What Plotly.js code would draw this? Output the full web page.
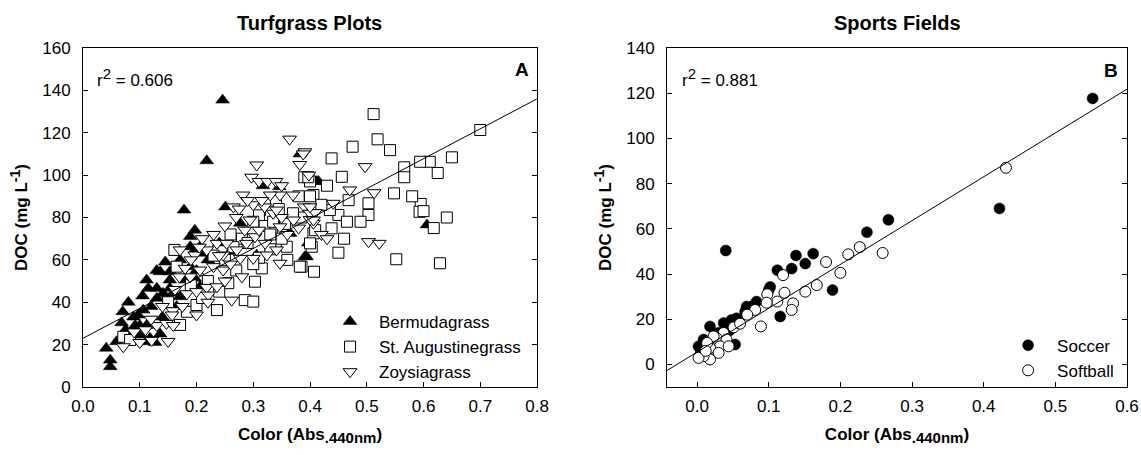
<!DOCTYPE html>
<html>
<head>
<meta charset="utf-8">
<script src="https://cdn.plot.ly/plotly-3.0.1.min.js"></script>
<style>html,body{margin:0;padding:0;background:#fff;}#chart{width:1141px;height:455px;}</style>
</head>
<body>
<div id="chart"></div>
<script>
// ---- Panel A: Turfgrass Plots ----
var bermudaX = [0.041,0.048,0.048,0.059,0.070,0.068,0.089,0.097,0.106,0.092,0.100,0.112,0.118,0.127,0.136,0.089,0.100,0.112,0.112,0.115,0.130,0.136,0.153,0.153,0.153,0.171,0.189,0.197,0.206,0.215,0.189,0.180,0.197,0.206,0.159,0.171,0.141,0.178,0.251,0.197,0.218,0.246,0.317,0.346,0.382,0.412,0.415,0.277,0.365,0.394,0.306,0.189,0.606,0.391,0.397,0.080,0.120,0.140,0.165,0.130,0.220,0.240,0.260,0.075,0.105,0.145,0.200,0.130];
var bermudaY = [18.3,12.7,9.6,21.4,35.5,30.3,33.0,34.0,36.3,29.0,29.0,29.0,23.0,21.0,25.0,25.3,24.5,21.4,50.5,46.6,46.6,54.4,50.5,54.4,46.6,60.0,66.2,64.6,66.2,63.1,56.8,50.5,51.3,47.3,44.2,42.6,44.2,83.5,85.0,74.0,106.8,135.4,95.0,94.5,110.0,97.0,97.0,77.3,72.5,61.5,62.3,71.0,76.5,61.5,68.0,40.0,38.0,33.0,38.0,55.0,60.0,68.0,64.0,27.0,43.0,59.0,55.0,41.9];

var staugX = [0.512,0.519,0.541,0.475,0.438,0.456,0.700,0.650,0.611,0.594,0.566,0.566,0.625,0.548,0.503,0.503,0.489,0.595,0.593,0.641,0.618,0.468,0.450,0.465,0.435,0.406,0.390,0.400,0.400,0.312,0.385,0.310,0.397,0.552,0.629,0.450,0.438,0.406,0.403,0.407,0.385,0.161,0.071,0.083,0.183,0.171,0.236,0.285,0.300,0.256,0.303,0.200,0.315,0.310,0.359,0.382,0.400,0.409,0.320,0.335,0.352,0.356,0.165,0.280,0.250,0.270,0.330,0.350,0.220,0.240,0.290,0.370,0.340,0.380,0.430,0.420,0.460,0.360,0.260,0.300,0.210,0.190,0.150,0.600,0.580,0.230,0.265,0.330,0.300,0.345];
var staugY = [128.8,116.9,111.8,113.4,107.9,99.2,121.3,108.4,106.3,106.3,103.7,99.0,101.0,91.4,86.7,81.2,78.0,86.4,82.7,80.0,75.0,88.2,81.2,78.0,83.5,90.6,99.0,97.0,90.0,83.5,80.0,81.0,99.0,60.3,58.4,63.4,74.9,72.5,66.2,54.4,56.8,64.7,23.7,22.2,35.5,29.3,36.3,41.0,40.3,49.0,49.7,38.7,56.0,61.0,66.2,56.8,67.8,74.0,76.0,78.0,74.0,77.0,56.8,70.0,60.0,55.0,65.0,70.0,50.0,45.0,68.0,82.0,88.0,90.0,95.0,86.0,70.0,60.0,72.0,78.0,42.0,48.0,40.0,83.0,90.0,62.0,66.0,72.0,58.0,84.0];

var zoysiaX = [0.364,0.391,0.306,0.297,0.310,0.325,0.340,0.382,0.398,0.370,0.347,0.330,0.282,0.265,0.275,0.300,0.320,0.335,0.350,0.390,0.400,0.497,0.470,0.513,0.441,0.409,0.406,0.388,0.503,0.522,0.420,0.430,0.400,0.400,0.071,0.100,0.121,0.150,0.130,0.147,0.159,0.158,0.175,0.157,0.162,0.183,0.200,0.218,0.189,0.206,0.230,0.247,0.236,0.221,0.262,0.171,0.197,0.218,0.236,0.253,0.271,0.288,0.303,0.321,0.341,0.347,0.341,0.371,0.406,0.277,0.247,0.300,0.324,0.347,0.294,0.250,0.270,0.230,0.210,0.190,0.170,0.140,0.120,0.090,0.110,0.200,0.220,0.250,0.280,0.260,0.360,0.380,0.310,0.290,0.350,0.240,0.285,0.315,0.205,0.180];
var zoysiaY = [117.0,111.0,104.8,99.0,97.0,97.0,97.0,105.0,100.0,90.6,90.6,90.6,90.6,85.0,84.0,86.0,85.0,82.0,80.0,85.0,82.0,104.0,93.0,91.7,86.7,82.3,77.3,110.0,68.6,67.8,72.0,70.0,79.0,85.0,19.0,21.0,22.0,21.5,29.0,30.0,29.0,36.0,38.0,34.0,46.0,44.0,45.0,47.0,52.0,55.2,56.8,55.2,47.3,43.4,41.0,64.7,62.3,64.7,67.8,67.8,64.7,67.8,70.9,67.8,64.7,75.6,83.5,78.8,78.8,60.7,62.3,60.7,62.3,58.4,78.8,76.0,80.0,72.0,70.0,60.0,52.0,38.0,32.0,26.0,27.0,34.0,40.0,50.0,52.0,58.0,72.0,75.0,74.0,88.0,95.0,62.0,74.0,88.0,66.0,56.0];

var fitA_X = [0.0, 0.8];
var fitA_Y = [23.0, 136.0];

// ---- Panel B: Sports Fields ----
var soccerX = [0.237,0.267,0.552,0.422,0.040,0.138,0.162,0.151,0.132,0.112,0.189,0.116,0.102,0.100,0.069,0.074,0.083,0.067,0.055,0.048,0.037,0.018,0.009,0.002,0.053,0.078,0.045,0.030,0.005];
var soccerY = [58.5,64.0,117.7,69.0,50.4,48.2,49.0,44.6,42.4,41.7,32.9,21.2,34.3,32.9,25.6,24.1,27.8,23.4,20.4,19.7,18.3,16.8,11.0,8.0,8.8,26.0,15.0,14.0,5.0];

var softballX = [0.259,0.227,0.211,0.200,0.180,0.167,0.151,0.134,0.132,0.120,0.122,0.112,0.098,0.097,0.089,0.081,0.051,0.037,0.027,0.041,0.032,0.018,0.018,0.009,0.002,0.023,0.014,0.044,0.030,0.431,0.060,0.070,0.012];
var softballY = [49.3,51.9,48.7,40.5,45.3,35.1,32.2,27.0,24.1,39.5,31.7,27.8,31.0,27.3,16.8,24.1,16.4,13.9,11.7,11.0,8.0,7.3,2.2,3.6,2.9,12.4,9.5,8.0,5.1,87.0,18.0,22.0,6.0];

var fitB_X = [-0.042, 0.6];
var fitB_Y = [-2.7, 121.8];

var FONT = 'Liberation Sans, Arial, sans-serif';

var traces = [
  {x: bermudaX, y: bermudaY, xaxis:'x', yaxis:'y', mode:'markers', type:'scatter', name:'Bermudagrass', legend:'legend',
   marker:{symbol:'triangle-up', size:12, color:'#000', line:{color:'#000', width:0.5}}},
  {x: staugX, y: staugY, xaxis:'x', yaxis:'y', mode:'markers', type:'scatter', name:'St. Augustinegrass', legend:'legend',
   marker:{symbol:'square', size:11, color:'#fff', line:{color:'#000', width:1}}},
  {x: zoysiaX, y: zoysiaY, xaxis:'x', yaxis:'y', mode:'markers', type:'scatter', name:'Zoysiagrass', legend:'legend',
   marker:{symbol:'triangle-down', size:12, color:'#fff', line:{color:'#000', width:1}}},
  {x: fitA_X, y: fitA_Y, xaxis:'x', yaxis:'y', mode:'lines', type:'scatter', showlegend:false,
   line:{color:'#000', width:1}},
  {x: soccerX, y: soccerY, xaxis:'x2', yaxis:'y2', mode:'markers', type:'scatter', name:'Soccer', legend:'legend2',
   marker:{symbol:'circle', size:11, color:'#000', line:{color:'#000', width:0.5}}},
  {x: softballX, y: softballY, xaxis:'x2', yaxis:'y2', mode:'markers', type:'scatter', name:'Softball', legend:'legend2',
   marker:{symbol:'circle', size:11, color:'#fff', line:{color:'#000', width:1}}},
  {x: fitB_X, y: fitB_Y, xaxis:'x2', yaxis:'y2', mode:'lines', type:'scatter', showlegend:false,
   line:{color:'#000', width:1}}
];

var axX = {showgrid:false, zeroline:false, showline:true, linecolor:'#000', linewidth:1, mirror:true,
  ticks:'inside', ticklen:5, tickcolor:'#000', tickformat:'.1f', dtick:0.1, tick0:0,
  ticklabelstandoff:4, tickfont:{family:FONT, size:17, color:'#000'}};
var axY = {showgrid:false, zeroline:false, showline:true, linecolor:'#000', linewidth:1, mirror:'ticks',
  ticks:'inside', ticklen:5, tickcolor:'#000', dtick:20, tick0:0,
  ticklabelstandoff:8, tickfont:{family:FONT, size:17, color:'#000'}};

function clone(o){return JSON.parse(JSON.stringify(o));}

var xTitle = '<b>Color (Abs<sub><span style="font-size:15px">.440nm</span></sub>)</b>';
var yTitle = '<b>DOC (mg L<sup><span style="font-size:14px">-1</span></sup>)</b>';

var xa = clone(axX); xa.domain=[0,0.4349]; xa.range=[0,0.8]; xa.anchor='y';
xa.title={text:xTitle, font:{family:FONT, size:17, color:'#000'}, standoff:12};
var ya = clone(axY); ya.range=[0,160]; ya.anchor='x';
ya.title={text:yTitle, font:{family:FONT, size:17, color:'#000'}, standoff:10};
var xb = clone(axX); xb.domain=[0.5594,1]; xb.range=[-0.042,0.6]; xb.anchor='y2';
xb.title={text:xTitle, font:{family:FONT, size:17, color:'#000'}, standoff:12};
var yb = clone(axY); yb.range=[-10,140]; yb.anchor='x2';
yb.title={text:yTitle, font:{family:FONT, size:17, color:'#000'}, standoff:10};

var r2A = 'r<sup><span style="font-size:15px">2</span></sup> = 0.606';
var r2B = 'r<sup><span style="font-size:15px">2</span></sup> = 0.881';

var layout = {
  width:1141, height:455,
  margin:{l:83, r:14, t:48, b:68},
  paper_bgcolor:'#fff', plot_bgcolor:'#fff',
  font:{family:FONT, size:17, color:'#000'},
  xaxis:xa, yaxis:ya, xaxis2:xb, yaxis2:yb,
  showlegend:true,
  legend:{x:0.228, y:0.245, xanchor:'left', yanchor:'top', bgcolor:'rgba(0,0,0,0)', borderwidth:0,
    itemwidth:48, tracegroupgap:0, font:{family:FONT, size:17, color:'#000'}},
  legend2:{x:0.8775, y:0.175, xanchor:'left', yanchor:'top', bgcolor:'rgba(0,0,0,0)', borderwidth:0,
    itemwidth:48, tracegroupgap:0, font:{family:FONT, size:17, color:'#000'}},
  annotations:[
    {text:'<b>Turfgrass Plots</b>', xref:'paper', yref:'paper', x:0.2174, y:1.0737, xanchor:'center', yanchor:'middle', showarrow:false, font:{family:FONT, size:20, color:'#000'}},
    {text:'<b>Sports Fields</b>', xref:'paper', yref:'paper', x:0.7797, y:1.0737, xanchor:'center', yanchor:'middle', showarrow:false, font:{family:FONT, size:20, color:'#000'}},
    {text:r2A, xref:'paper', yref:'paper', x:0.0115, y:0.914, xanchor:'left', yanchor:'middle', showarrow:false, font:{family:FONT, size:17, color:'#000'}},
    {text:r2B, xref:'paper', yref:'paper', x:0.5718, y:0.914, xanchor:'left', yanchor:'middle', showarrow:false, font:{family:FONT, size:17, color:'#000'}},
    {text:'<b>A</b>', xref:'paper', yref:'paper', x:0.4291, y:0.938, xanchor:'right', yanchor:'middle', showarrow:false, font:{family:FONT, size:19, color:'#000'}},
    {text:'<b>B</b>', xref:'paper', yref:'paper', x:0.9933, y:0.935, xanchor:'right', yanchor:'middle', showarrow:false, font:{family:FONT, size:19, color:'#000'}}
  ]
};

Plotly.newPlot('chart', traces, layout, {staticPlot:true, displayModeBar:false});
</script>
</body>
</html>
